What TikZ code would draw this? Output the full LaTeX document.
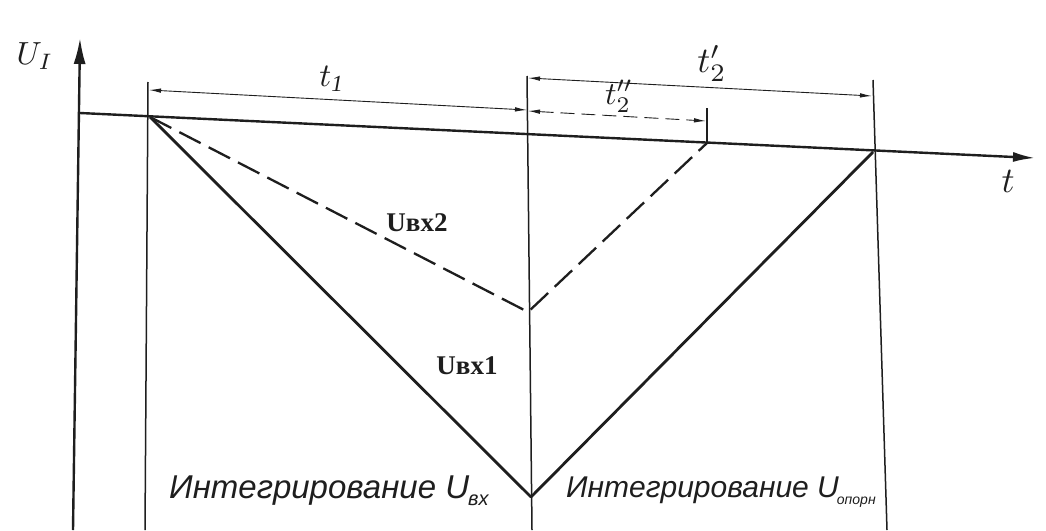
\documentclass[tikz,border=0pt]{standalone}
\usepackage{fontspec}
\usepackage{graphicx}
\setmainfont{Liberation Serif}
\setsansfont{Liberation Sans}
\usetikzlibrary{arrows.meta}
\definecolor{ink}{HTML}{1E1E1E}
\newcommand{\bigmath}[2]{\fontsize{10}{12}\selectfont\scalebox{#1}{$#2$}}
\begin{document}
\begin{tikzpicture}[x=1pt,y=-1pt,
  mainline/.style={draw=ink, line width=2.8pt, line join=round},
  axisline/.style={draw=ink, line width=2.4pt},
  vline/.style={draw=ink, line width=1.5pt},
  dimline/.style={draw=ink, line width=0.9pt, {Latex[length=12pt,width=4.5pt]}-{Latex[length=12pt,width=4.5pt]}},
  dimdash/.style={draw=ink, line width=0.9pt, dash pattern=on 14pt off 7pt},
  vdash/.style={draw=ink, line width=2.3pt, dash pattern=on 24pt off 9pt},
  lbl/.style={inner sep=0pt, text=ink},
  rus/.style={inner sep=0pt, text=ink, font=\sffamily\itshape},
  ubold/.style={inner sep=0pt, text=ink, font=\bfseries\fontsize{27}{29}\selectfont}
]
\useasboundingbox (0,0) rectangle (1046,530);
\fill[white] (0,0) rectangle (1046,530);

% key points
\coordinate (ytop) at (80,38);
\coordinate (ybot) at (73,530);
\coordinate (O) at (80,113);
\coordinate (xend) at (1035,158);
\coordinate (A) at (150,117);
\coordinate (V1) at (531,497);
\coordinate (V2) at (528,312);
\coordinate (E1) at (873,152);
\coordinate (E2) at (707,143);

% vertical lines
\coordinate (L1t) at (148,82);  \coordinate (L1b) at (145,530);
\coordinate (Mt) at (527,76);   \coordinate (Mb) at (532,530);
\coordinate (Rt) at (873,80);   \coordinate (Rb) at (887,530);
\coordinate (St) at (707,108);

\draw[vline] (L1t) -- (L1b);
\draw[vline] (Mt) -- (Mb);
\draw[vline] (Rt) -- (Rb);
\draw[vline] (St) -- (E2);

% axes
\draw[axisline, -{Latex[length=26pt,width=12pt]}] (ybot) -- (ytop);
\draw[axisline, -{Latex[length=22pt,width=10pt]}] (O) -- (xend);

% curves
\draw[mainline] (A) -- (V1) -- (E1);
\draw[vdash] (A) -- (V2) -- (E2);

% dimension lines
\coordinate (t1a) at (149,90);  \coordinate (t1b) at (527,110);
\coordinate (t2a) at (528,78);  \coordinate (t2b) at (872,96);
\coordinate (t3a) at (528,111); \coordinate (t3b) at (706,121);
\draw[dimline] (t1a) -- (t1b);
\draw[dimline] (t2a) -- (t2b);
\draw[dimdash, {Latex[length=12pt,width=4.5pt]}-{Latex[length=12pt,width=4.5pt]}] (t3a) -- (t3b);

% labels
\node[lbl] (uI) at (35,56) {\bigmath{3.2}{U_I}};
\node[lbl] (tl) at (1008,181) {\bigmath{3.6}{t}};
\node[lbl] (t1) at (332,79) {\bigmath{3.3}{t_{\mathit 1}}};
\node[lbl] (t2p) at (712,63) {\bigmath{3.6}{t'_2}};
\node[lbl] (t2pp) at (619,96) {\bigmath{3.2}{t''_2}};

\node[ubold] (u2) at (417,223) {Uвх2};
\node[ubold] (u1) at (467,366) {Uвх1};

\node[rus, font=\sffamily\itshape\fontsize{33}{36}\selectfont, anchor=base west] (i1) at (169,498) {Интегрирование U\hspace{-1pt}\raisebox{-7pt}{\fontsize{20}{22}\selectfont вх}};
\node[rus, font=\sffamily\itshape\fontsize{30}{33}\selectfont, anchor=base west] (i2) at (566,497) {Интегрирование U\hspace{-2pt}\raisebox{-7pt}{\fontsize{14}{15}\selectfont опорн}};
\end{tikzpicture}
\end{document}
